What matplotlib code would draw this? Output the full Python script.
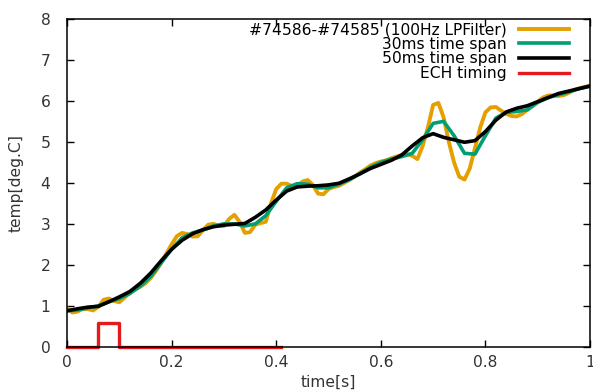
import matplotlib
matplotlib.use('Agg')
import matplotlib.pyplot as plt
import numpy as np

# ---- data ----
t_raw = np.round(np.arange(0, 1.0001, 0.01), 2)
temp_raw = [0.95, 0.84, 0.86, 0.93, 0.92, 0.89, 0.98, 1.15, 1.18, 1.12,
            1.09, 1.20, 1.33, 1.40, 1.47, 1.55, 1.68, 1.85, 2.05, 2.28,
            2.50, 2.70, 2.78, 2.75, 2.69, 2.70, 2.85, 2.98, 3.00, 2.95,
            2.95, 3.12, 3.22, 3.05, 2.78, 2.80, 2.98, 3.02, 3.05, 3.50,
            3.85, 3.98, 3.98, 3.92, 3.92, 4.03, 4.07, 3.95, 3.74, 3.72,
            3.85, 3.90, 3.93, 4.00, 4.07, 4.15, 4.25, 4.33, 4.42, 4.48,
            4.52, 4.55, 4.60, 4.64, 4.68, 4.70, 4.66, 4.58, 4.90, 5.35,
            5.90, 5.95, 5.60, 5.00, 4.50, 4.15, 4.08, 4.35, 4.85, 5.35,
            5.72, 5.84, 5.85, 5.76, 5.68, 5.63, 5.62, 5.68, 5.78, 5.88,
            5.98, 6.08, 6.13, 6.13, 6.12, 6.14, 6.20, 6.27, 6.31, 6.34,
            6.37]

t_span = np.round(np.arange(0, 1.0001, 0.02), 2)
temp_30ms = [0.88, 0.90, 0.95, 1.00, 1.10, 1.18, 1.30, 1.48, 1.72, 2.05,
             2.38, 2.66, 2.78, 2.85, 2.95, 3.00, 3.00, 2.95, 3.00, 3.20,
             3.55, 3.88, 3.98, 3.97, 3.88, 3.88, 3.97, 4.08, 4.22, 4.38,
             4.50, 4.58, 4.64, 4.72, 5.05, 5.45, 5.50, 5.15, 4.72, 4.70,
             5.15, 5.58, 5.72, 5.74, 5.78, 5.96, 6.08, 6.15, 6.22, 6.30,
             6.36]
temp_50ms = [0.88, 0.93, 0.97, 0.99, 1.10, 1.22, 1.35, 1.55, 1.80, 2.10,
             2.38, 2.60, 2.76, 2.86, 2.93, 2.97, 2.99, 3.01, 3.16, 3.34,
             3.58, 3.80, 3.90, 3.92, 3.93, 3.95, 3.99, 4.10, 4.22, 4.35,
             4.45, 4.55, 4.68, 4.90, 5.10, 5.20, 5.11, 5.05, 4.99, 5.03,
             5.25, 5.53, 5.73, 5.82, 5.88, 5.98, 6.08, 6.18, 6.24, 6.30,
             6.36]

ech_t = [0.0, 0.06, 0.06, 0.10, 0.10, 0.41]
ech_v = [0.0, 0.0, 0.58, 0.58, 0.0, 0.0]

labels = ['#74586-#74585 (100Hz LPFilter)', '30ms time span',
          '50ms time span', 'ECH timing']

# ---- figure ----
plt.rcParams['font.family'] = 'DejaVu Sans'
plt.rcParams['font.size'] = 11.2

fig = plt.figure(figsize=(5.93, 3.92), dpi=100)
ax = fig.add_axes([0.113, 0.115, 0.882, 0.837])

ax.plot(t_raw, temp_raw, color='#E69F00', lw=2.8, label=labels[0])
ax.plot(t_span, temp_30ms, color='#009E73', lw=2.6, label=labels[1])
ax.plot(t_span, temp_50ms, color='black', lw=2.6, label=labels[2])
ax.plot(ech_t, ech_v, color='#E41A1C', lw=2.4, label=labels[3], clip_on=False)

ax.set_xlim(0, 1)
ax.set_ylim(0, 8)
ax.set_xticks([0, 0.2, 0.4, 0.6, 0.8, 1])
ax.set_xticklabels(['0', '0.2', '0.4', '0.6', '0.8', '1'])
ax.set_yticks(range(0, 9))
ax.tick_params(direction='in', length=5, width=1, top=True, right=True,
               colors='black', labelcolor='#333333')
ax.tick_params(axis='y', pad=12)
ax.tick_params(axis='x', pad=6)
for s in ax.spines.values():
    s.set_linewidth(1.1)

ax.set_xlabel('time[s]', color='#333333', labelpad=3)
ax.set_ylabel('temp[deg.C]', color='#333333', labelpad=12)

ax.legend(loc='upper right', bbox_to_anchor=(0.96, 0.99), frameon=False,
          markerfirst=False, borderaxespad=0, borderpad=0, handlelength=3.2,
          handletextpad=0.8, labelspacing=-0.02, fontsize=11.2)

plt.savefig('out.png', dpi=100)
